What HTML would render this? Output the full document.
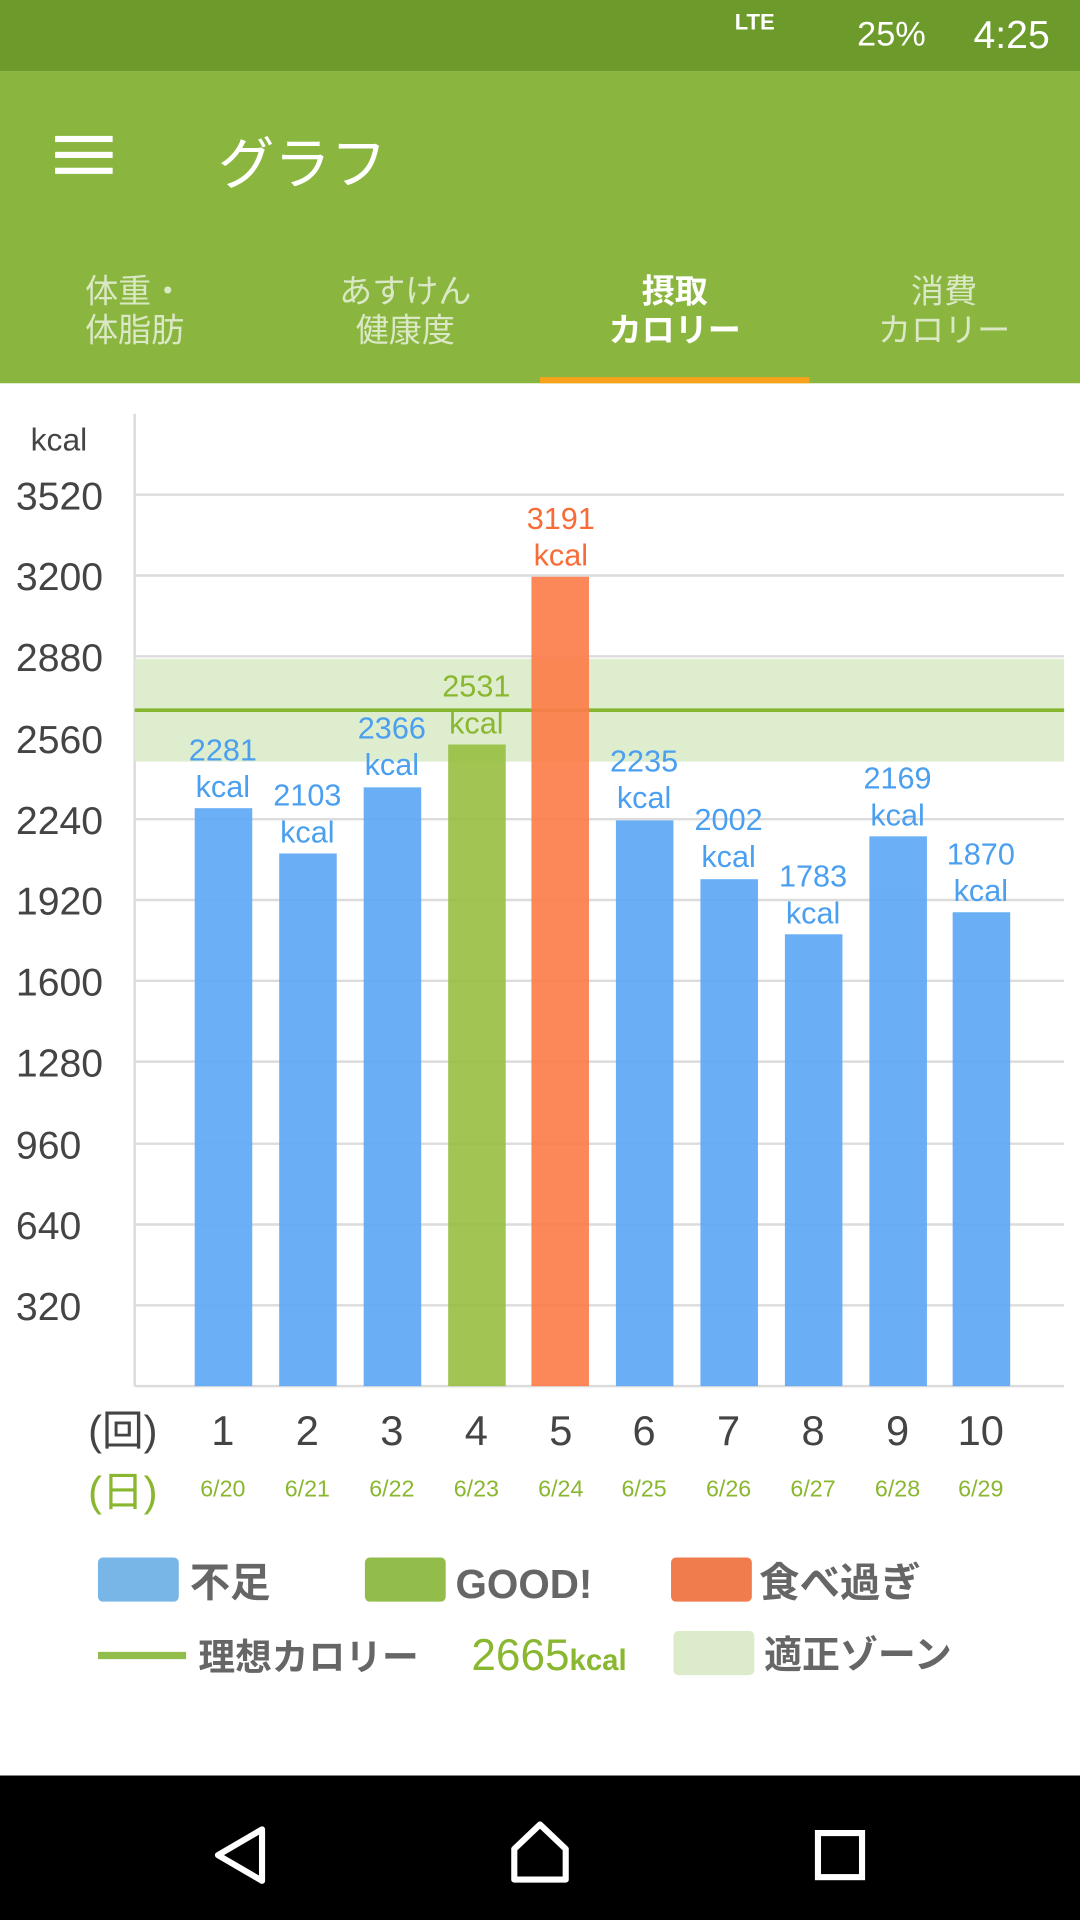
<!DOCTYPE html>
<html><head><meta charset="utf-8"><style>
html,body{margin:0;padding:0;width:1080px;height:1920px;overflow:hidden;background:#fff}
#w{position:absolute;left:0;top:0;width:882px;height:1568px;transform:scale(1.22449);transform-origin:0 0;font-family:"Liberation Sans","Noto Sans CJK JP",sans-serif}
.a{position:absolute}
.t{position:absolute;white-space:nowrap}
</style></head><body><div id="w">
<div class="a" style="left:0;top:0;width:882px;height:58px;background:#6c9a2b"></div>
<div class="t" style="left:700px;top:12px;color:#fff;font-size:28px">25%</div>
<div class="t" style="left:795px;top:10px;color:#fff;font-size:32px">4:25</div>
<div class="t" style="left:600px;top:8px;color:#fff;font-size:18px;font-weight:bold">LTE</div>
<div class="a" style="left:0;top:58px;width:882px;height:255px;background:#8ab63f"></div>
<div class="a" style="left:45px;top:111px;width:47px;height:5px;background:#fff"></div>
<div class="a" style="left:45px;top:124px;width:47px;height:5px;background:#fff"></div>
<div class="a" style="left:45px;top:137px;width:47px;height:5px;background:#fff"></div>
<div class="t" style="left:178px;top:98px;color:#fff;font-size:46px">グラフ</div>
<div class="t" style="left:0;width:220px;top:222px;text-align:center;color:#dbe8c6;font-size:27px;line-height:32px">体重・<br>体脂肪</div>
<div class="t" style="left:221px;width:220px;top:222px;text-align:center;color:#dbe8c6;font-size:27px;line-height:32px">あすけん<br>健康度</div>
<div class="t" style="left:441px;width:220px;top:222px;text-align:center;color:#fff;font-size:27px;line-height:32px;font-weight:bold">摂取<br>カロリー</div>
<div class="t" style="left:661px;width:220px;top:222px;text-align:center;color:#dbe8c6;font-size:27px;line-height:32px">消費<br>カロリー</div>
<div class="a" style="left:441px;top:308px;width:220px;height:5px;background:#f7a21b"></div>

<svg class="a" style="left:0;top:313px" width="882" height="1137" viewBox="0 313 882 1137">
<g stroke="#dcdcdc" stroke-width="2">
<line x1="110" x2="869" y1="404" y2="404"/><line x1="110" x2="869" y1="470" y2="470"/><line x1="110" x2="869" y1="536" y2="536"/><line x1="110" x2="869" y1="603" y2="603"/><line x1="110" x2="869" y1="669" y2="669"/><line x1="110" x2="869" y1="735" y2="735"/><line x1="110" x2="869" y1="801" y2="801"/><line x1="110" x2="869" y1="867" y2="867"/><line x1="110" x2="869" y1="934" y2="934"/><line x1="110" x2="869" y1="1000" y2="1000"/><line x1="110" x2="869" y1="1066" y2="1066"/><line x1="110" x2="869" y1="1132" y2="1132"/>
<line x1="110" x2="110" y1="338" y2="1132"/>
</g>
<g font-size="32" fill="#444" font-family="Liberation Sans,sans-serif">
<text x="13" y="416">3520</text><text x="13" y="482">3200</text><text x="13" y="548">2880</text><text x="13" y="615">2560</text><text x="13" y="681">2240</text><text x="13" y="747">1920</text><text x="13" y="813">1600</text><text x="13" y="879">1280</text><text x="13" y="946">960</text><text x="13" y="1012">640</text><text x="13" y="1078">320</text>
<text x="25" y="368" font-size="26">kcal</text>
</g>
<rect x="110" y="538" width="759" height="84" fill="#dfedcf"/>
<line x1="110" x2="869" y1="580" y2="580" stroke="#86b52e" stroke-width="3"/>
<g opacity="0.92">
<rect x="159" y="660" width="47" height="472" fill="#5ea9f6"/>
<rect x="228" y="697" width="47" height="435" fill="#5ea9f6"/>
<rect x="297" y="643" width="47" height="489" fill="#5ea9f6"/>
<rect x="366" y="608" width="47" height="524" fill="#99bf44"/>
<rect x="434" y="471" width="47" height="661" fill="#fc7d4a"/>
<rect x="503" y="670" width="47" height="462" fill="#5ea9f6"/>
<rect x="572" y="718" width="47" height="414" fill="#5ea9f6"/>
<rect x="641" y="763" width="47" height="369" fill="#5ea9f6"/>
<rect x="710" y="683" width="47" height="449" fill="#5ea9f6"/>
<rect x="778" y="745" width="47" height="387" fill="#5ea9f6"/>
</g>
<g font-size="25" text-anchor="middle" font-family="Liberation Sans,sans-serif">
<g fill="#4a9ff0">
<text x="182" y="621">2281</text><text x="182" y="651">kcal</text>
<text x="251" y="658">2103</text><text x="251" y="688">kcal</text>
<text x="320" y="603">2366</text><text x="320" y="633">kcal</text>
<text x="526" y="630">2235</text><text x="526" y="660">kcal</text>
<text x="595" y="678">2002</text><text x="595" y="708">kcal</text>
<text x="664" y="724">1783</text><text x="664" y="754">kcal</text>
<text x="733" y="644">2169</text><text x="733" y="674">kcal</text>
<text x="801" y="706">1870</text><text x="801" y="736">kcal</text>
</g>
<g fill="#8ab730"><text x="389" y="569">2531</text><text x="389" y="599">kcal</text></g>
<g fill="#f76c37"><text x="458" y="432">3191</text><text x="458" y="462">kcal</text></g>
</g>
<g font-size="34" fill="#444" text-anchor="middle" font-family="Liberation Sans,sans-serif">
<text x="182" y="1180">1</text><text x="251" y="1180">2</text><text x="320" y="1180">3</text><text x="389" y="1180">4</text><text x="458" y="1180">5</text><text x="526" y="1180">6</text><text x="595" y="1180">7</text><text x="664" y="1180">8</text><text x="733" y="1180">9</text><text x="801" y="1180">10</text>
</g>
<g font-size="19" fill="#8ab730" text-anchor="middle" font-family="Liberation Sans,sans-serif">
<text x="182" y="1222">6/20</text><text x="251" y="1222">6/21</text><text x="320" y="1222">6/22</text><text x="389" y="1222">6/23</text><text x="458" y="1222">6/24</text><text x="526" y="1222">6/25</text><text x="595" y="1222">6/26</text><text x="664" y="1222">6/27</text><text x="733" y="1222">6/28</text><text x="801" y="1222">6/29</text>
</g>
<text x="72" y="1180" font-size="34" fill="#444" font-family="Liberation Sans,Noto Sans CJK JP,sans-serif">(回)</text>
<text x="72" y="1230" font-size="34" fill="#8ab730" font-family="Liberation Sans,Noto Sans CJK JP,sans-serif">(日)</text>
<rect x="80" y="1272" width="66" height="36" rx="4" fill="#79b6e8"/>
<rect x="298" y="1272" width="66" height="36" rx="4" fill="#93bd4b"/>
<rect x="548" y="1272" width="66" height="36" rx="4" fill="#f07c4d"/>
<rect x="550" y="1332" width="66" height="36" rx="4" fill="#dcebc9"/>
<line x1="80" x2="152" y1="1352" y2="1352" stroke="#93bd4b" stroke-width="6"/>
<g font-size="33" font-weight="bold" fill="#666" font-family="Liberation Sans,Noto Sans CJK JP,sans-serif">
<text x="155" y="1304">不足</text><text x="372" y="1305">GOOD!</text><text x="620" y="1304">食べ過ぎ</text>
<text x="162" y="1364" font-size="30">理想カロリー</text><text x="624" y="1362" font-size="31">適正ゾーン</text>
</g>
<text x="385" y="1364" font-size="36" fill="#8ab730" font-family="Liberation Sans,sans-serif">2665<tspan font-size="24" font-weight="bold">kcal</tspan></text>
</svg>

<div class="a" style="left:0;top:1450px;width:882px;height:118px;background:#000"></div>
<svg class="a" style="left:0;top:1450px" width="882" height="118">
<polygon points="178,65 214,44 214,86" fill="none" stroke="#fff" stroke-width="5" stroke-linejoin="round"/>
<polygon points="420,60 441,40 462,60 462,85 420,85" fill="none" stroke="#fff" stroke-width="5" stroke-linejoin="round"/>
<rect x="668" y="47" width="36" height="36" fill="none" stroke="#fff" stroke-width="5"/>
</svg>
</div></body></html>
